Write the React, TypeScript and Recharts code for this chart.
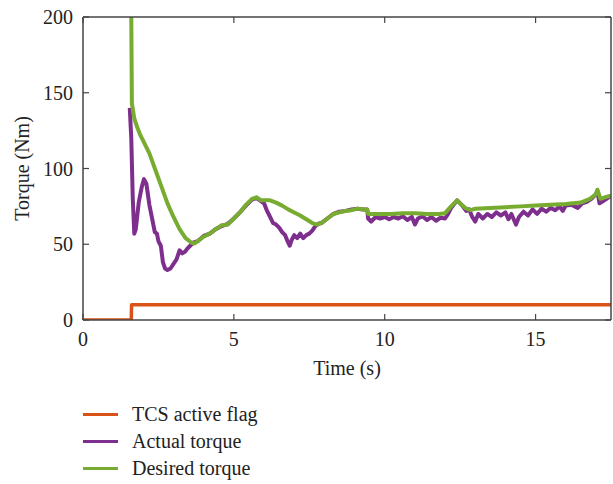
import { LineChart, Line, XAxis, YAxis } from "recharts";

const xTicks = [0, 5, 10, 15];
const yTicks = [0, 50, 100, 150, 200];

const flagTime = [0, 1.6, 1.61, 17.5];
const flagValue = [0, 0, 10, 10];

const desiredTime = [
  1.6, 1.62, 1.7, 1.8, 1.9, 2.0, 2.2, 2.4, 2.6, 2.8, 3.0, 3.2, 3.4, 3.6, 3.7, 3.8, 4.0, 4.2, 4.4, 4.6,
  4.8, 5.0, 5.2, 5.4, 5.6, 5.75, 5.9, 6.0, 6.2, 6.4, 6.6, 6.8, 7.0, 7.2, 7.4, 7.6, 7.75, 7.9, 8.1, 8.3,
  8.5, 8.7, 8.9, 9.1, 9.3, 9.42, 9.45, 9.8, 10.2, 10.6, 11.0, 11.4, 11.8, 12.0, 12.2, 12.4, 12.55, 12.7,
  12.85, 13.0, 13.5, 14.0, 14.5, 15.0, 15.5, 16.0, 16.5, 16.8, 17.0, 17.05, 17.15, 17.3, 17.5,
];
const desiredTorque = [
  200, 143, 133, 127, 122, 118, 110, 99, 88, 77, 68, 60, 54, 51, 50.5, 52, 55, 57, 60, 62.5,
  63, 67, 71, 76, 80, 81, 79, 79, 79, 77.5, 75.5, 73, 71, 69, 66.5, 64, 63, 64, 67, 70,
  71, 72, 72.5, 73.5, 73, 73, 70, 70, 70, 70.5, 70.5, 70, 70, 70.5, 75, 79, 76, 73.5,
  72.5, 73.5, 74, 74.5, 75, 75.5, 76, 76.5, 77.5, 80, 83, 86, 80, 81, 82,
];

const actualTime = [
  1.55, 1.6, 1.65, 1.7, 1.75, 1.85, 1.95, 2.02, 2.1, 2.2, 2.3, 2.38, 2.45, 2.5, 2.58, 2.65, 2.72, 2.8,
  2.9, 3.0, 3.1, 3.2, 3.28, 3.38, 3.45, 3.55, 3.65, 3.8, 4.0, 4.2, 4.4, 4.6, 4.8, 5.0, 5.2, 5.4, 5.6,
  5.75, 5.9, 6.0, 6.1, 6.2, 6.3, 6.4, 6.5, 6.6, 6.7, 6.78, 6.85, 6.92, 7.0, 7.1, 7.2, 7.3, 7.4, 7.5,
  7.6, 7.7, 7.8, 7.9, 8.1, 8.3, 8.5, 8.7, 8.9, 9.1, 9.3, 9.42, 9.45, 9.55, 9.7, 9.85, 10.0, 10.15,
  10.3, 10.45, 10.6, 10.75, 10.9, 11.0, 11.1, 11.25, 11.4, 11.55, 11.7, 11.85, 12.0, 12.1, 12.2, 12.4,
  12.55, 12.7, 12.8, 12.9, 13.0, 13.1, 13.25, 13.4, 13.55, 13.7, 13.85, 14.0, 14.1, 14.2, 14.35, 14.45,
  14.6, 14.75, 14.9, 15.05, 15.2, 15.35, 15.5, 15.65, 15.8, 15.9, 16.0, 16.2, 16.4, 16.55, 16.7, 16.85,
  17.0, 17.05, 17.12, 17.2, 17.35, 17.5,
];
const actualTorque = [
  140, 120, 80, 57, 60, 78, 88, 93, 90, 76, 66, 58, 57, 52, 49, 38, 34, 33,
  34, 37, 40, 46, 44, 45, 47, 49, 51, 52, 55.5, 57, 60, 62, 63.5, 67, 71, 75.5, 79.5,
  80.5, 78.5, 77, 72, 68, 64, 63, 61, 58, 56, 52, 49, 53, 56, 54, 57, 54, 56, 57,
  59, 62, 63.5, 64, 67, 70, 71.5, 72, 73, 73.5, 73, 73, 67, 65, 68, 67, 68, 66.5,
  68, 67, 68.5, 66, 68, 63, 67, 68.5, 66, 68, 65.5, 67.5, 67, 70, 74, 79,
  76, 72, 73, 68, 65, 70, 67, 70, 68, 71, 69, 71, 66.5, 70, 63, 68,
  71.5, 69, 73, 70, 73.5, 71.5, 74, 72.5, 75, 72, 75.5, 76, 74, 77, 78, 80,
  83, 85, 77, 78, 80, 82,
];

const zip = (ts: number[], vs: number[]) => ts.map((t, i) => ({ t, v: vs[i] }));

// the flag series sits on the top/right axes (same domains) so those frame axes get drawn
const series = [
  { name: "TCS active flag", color: "#D95319", width: 3.5, data: zip(flagTime, flagValue), xId: "top", yId: "right" },
  { name: "Actual torque", color: "#7E2F8E", width: 4, data: zip(actualTime, actualTorque), xId: "main", yId: "main" },
  { name: "Desired torque", color: "#77AC30", width: 4, data: zip(desiredTime, desiredTorque), xId: "main", yId: "main" },
];

const FONT = "'Liberation Serif', 'DejaVu Serif', serif";
const AXIS = "#444";
const TICK_LEN = 6;

const BottomTick = ({ x, y, payload }: any) => (
  <g>
    <line x1={x} x2={x} y1={y} y2={y - TICK_LEN} stroke={AXIS} strokeWidth={1.2} />
    <text x={x} y={y + 26} textAnchor="middle" fontSize={20} fontFamily={FONT} fill="#222">
      {payload.value}
    </text>
  </g>
);

const LeftTick = ({ x, y, payload }: any) => (
  <g>
    <line x1={x} x2={x + TICK_LEN} y1={y} y2={y} stroke={AXIS} strokeWidth={1.2} />
    <text x={x - 10} y={y + 7} textAnchor="end" fontSize={20} fontFamily={FONT} fill="#222">
      {payload.value}
    </text>
  </g>
);

const TopTick = ({ x, y }: any) => (
  <line x1={x} x2={x} y1={y} y2={y + TICK_LEN} stroke={AXIS} strokeWidth={1.2} />
);

const RightTick = ({ x, y }: any) => (
  <line x1={x} x2={x - TICK_LEN} y1={y} y2={y} stroke={AXIS} strokeWidth={1.2} />
);

export default function App() {
  return (
    <div style={{ position: "absolute", left: 0, top: 0, width: 613, height: 484, background: "#fff" }}>
      <LineChart width={613} height={390} margin={{ top: 16, right: 1, bottom: 0, left: 0 }}>
        <XAxis
          xAxisId="main"
          dataKey="t"
          type="number"
          domain={[0, 17.5]}
          allowDataOverflow
          ticks={xTicks}
          height={70}
          tickSize={0}
          tickMargin={0}
          tickLine={false}
          axisLine={{ stroke: AXIS, strokeWidth: 1.5 }}
          tick={<BottomTick />}
          label={(p: any) => (
            <text
              x={p.viewBox.x + p.viewBox.width / 2}
              y={p.viewBox.y + 55}
              textAnchor="middle"
              fontSize={20}
              fontFamily={FONT}
              fill="#222"
            >
              Time (s)
            </text>
          )}
        />
        <XAxis
          xAxisId="top"
          orientation="top"
          dataKey="t"
          type="number"
          domain={[0, 17.5]}
          allowDataOverflow
          ticks={xTicks}
          height={1}
          tickSize={0}
          tickMargin={0}
          tickLine={false}
          axisLine={{ stroke: AXIS, strokeWidth: 1.5 }}
          tick={<TopTick />}
        />
        <YAxis
          yAxisId="main"
          type="number"
          domain={[0, 200]}
          allowDataOverflow
          ticks={yTicks}
          width={83}
          tickSize={0}
          tickMargin={0}
          tickLine={false}
          axisLine={{ stroke: AXIS, strokeWidth: 1.5 }}
          tick={<LeftTick />}
          label={(p: any) => {
            const cx = 22;
            const cy = p.viewBox.y + p.viewBox.height / 2;
            return (
              <text
                x={cx}
                y={cy}
                transform={`rotate(-90 ${cx} ${cy})`}
                textAnchor="middle"
                dominantBaseline="central"
                fontSize={20}
                fontFamily={FONT}
                fill="#222"
              >
                Torque (Nm)
              </text>
            );
          }}
        />
        <YAxis
          yAxisId="right"
          orientation="right"
          type="number"
          domain={[0, 200]}
          allowDataOverflow
          ticks={yTicks}
          width={1}
          tickSize={0}
          tickMargin={0}
          tickLine={false}
          axisLine={{ stroke: AXIS, strokeWidth: 1.5 }}
          tick={<RightTick />}
        />
        {series.map((s) => (
          <Line
            key={s.name}
            xAxisId={s.xId}
            yAxisId={s.yId}
            data={s.data}
            dataKey="v"
            name={s.name}
            type="linear"
            stroke={s.color}
            strokeWidth={s.width}
            strokeLinejoin="round"
            dot={false}
            activeDot={false}
            isAnimationActive={false}
          />
        ))}
      </LineChart>
      <div style={{ position: "absolute", left: 83, top: 401, fontFamily: FONT, fontSize: 20, color: "#222" }}>
        {series.map((s) => (
          <div key={s.name} style={{ display: "flex", alignItems: "center", height: 27 }}>
            <div style={{ width: 35, height: 3, background: s.color, marginRight: 14 }} />
            <span style={{ lineHeight: "27px" }}>{s.name}</span>
          </div>
        ))}
      </div>
    </div>
  );
}
